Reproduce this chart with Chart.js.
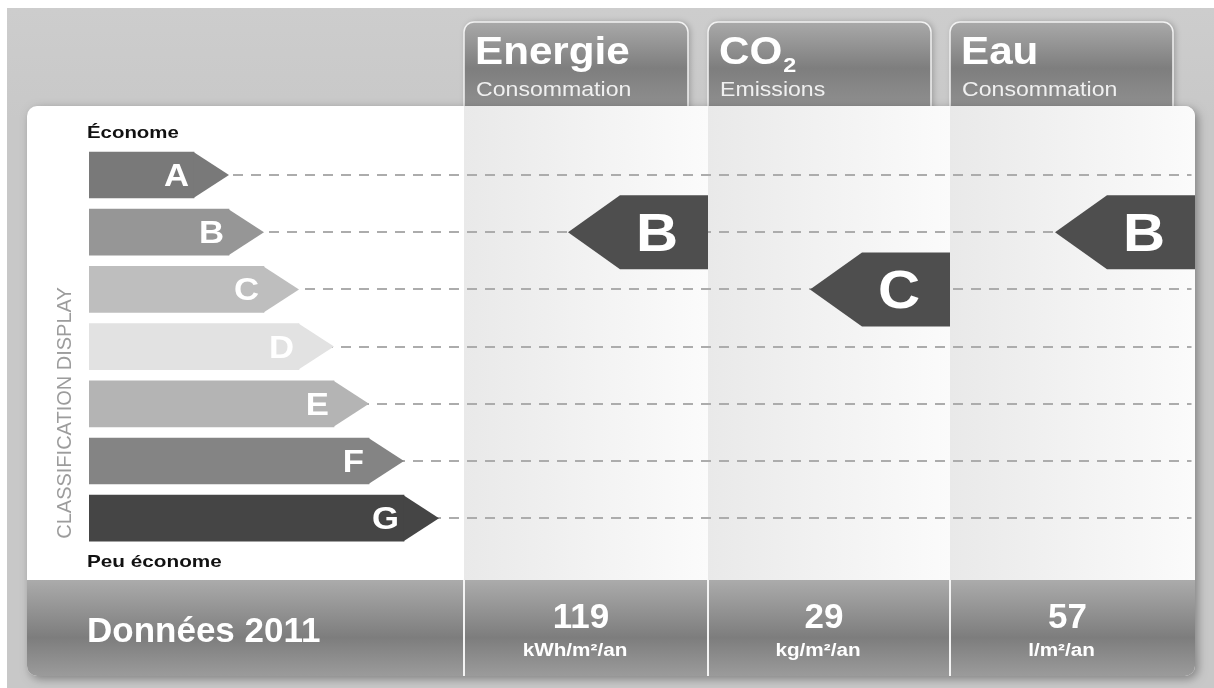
<!DOCTYPE html>
<html>
<head>
<meta charset="utf-8">
<title>Classification</title>
<script src="https://cdn.jsdelivr.net/npm/chart.js@4.4.0/dist/chart.umd.min.js"></script>
<style>
  html, body { margin: 0; padding: 0; background: #fff; }
  canvas { display: block; }
</style>
</head>
<body>
<canvas id="chart" width="1214" height="688"></canvas>
<script>
// classes and their bar lengths (in tip-length units)
const classes = ['A', 'B', 'C', 'D', 'E', 'F', 'G'];
const classLengths = [3, 4, 5, 6, 7, 8, 9];
const classColors = ['#797979', '#969696', '#bebebe', '#e2e2e2', '#b4b4b4', '#848484', '#454545'];

// the three indicators
const indicators = ['Energie', 'CO2', 'Eau'];
const indicatorSubtitles = ['Consommation', 'Emissions', 'Consommation'];
const indicatorClasses = ['B', 'C', 'B'];
const indicatorValues = [119, 29, 57];
const indicatorUnits = ['kWh/m²/an', 'kg/m²/an', 'l/m²/an'];
const yearLabel = 'Données 2011';
const topLabel = 'Économe';
const bottomLabel = 'Peu économe';
const axisTitle = 'CLASSIFICATION DISPLAY';

const FONT = "'Liberation Sans', Arial, sans-serif";
const panel = { left: 27, top: 106, right: 1195, bottom: 676, band: 580, r: 10 };
const columns = [[464, 708], [708, 950], [950, 1195]];
const tabs = [[464, 688], [708, 931], [950, 1173]];

function roundPath(ctx, x, y, w, h, tl, tr, br, bl) {
    ctx.beginPath();
    ctx.moveTo(x + tl, y);
    ctx.lineTo(x + w - tr, y);
    ctx.arcTo(x + w, y, x + w, y + tr, tr);
    ctx.lineTo(x + w, y + h - br);
    ctx.arcTo(x + w, y + h, x + w - br, y + h, br);
    ctx.lineTo(x + bl, y + h);
    ctx.arcTo(x, y + h, x, y + h - bl, bl);
    ctx.lineTo(x, y + tl);
    ctx.arcTo(x, y, x + tl, y, tl);
    ctx.closePath();
}

function panelPath(ctx) {
    roundPath(ctx, panel.left, panel.top, panel.right - panel.left, panel.bottom - panel.top,
        panel.r, panel.r, panel.r, panel.r);
}

// the source lettering is a little wider than Arial, so stretch it sideways
function text(ctx, str, x, y, font, sx, align) {
    ctx.save();
    ctx.font = font;
    ctx.textAlign = align || 'left';
    ctx.translate(x, y);
    ctx.scale(sx, 1);
    ctx.fillText(str, 0, 0);
    const w = ctx.measureText(str).width * sx;
    ctx.restore();
    return w;
}

const backdrop = {
    id: 'backdrop',
    beforeDraw(chart) {
        const ctx = chart.ctx;
        ctx.save();
        // page
        ctx.fillStyle = '#ffffff';
        ctx.fillRect(0, 0, 1214, 688);
        const pg = ctx.createLinearGradient(0, 8, 0, 120);
        pg.addColorStop(0, '#cdcdcd');
        pg.addColorStop(1, '#c8c8c8');
        ctx.fillStyle = pg;
        ctx.fillRect(7, 8, 1207, 680);

        // tabs
        tabs.forEach(([l, r]) => {
            roundPath(ctx, l, 22, r - l, 100, 10, 10, 0, 0);
            const g = ctx.createLinearGradient(0, 22, 0, 106);
            g.addColorStop(0, '#a9a9a9');
            g.addColorStop(0.55, '#7e7e7e');
            g.addColorStop(1, '#8f8f8f');
            ctx.fillStyle = g;
            ctx.shadowColor = 'rgba(0,0,0,0.25)';
            ctx.shadowBlur = 6;
            ctx.shadowOffsetX = 2;
            ctx.fill();
            ctx.shadowColor = 'transparent';
            ctx.strokeStyle = '#f2f2f2';
            ctx.lineWidth = 1.5;
            ctx.stroke();
        });

        // panel with shadow
        panelPath(ctx);
        ctx.shadowColor = 'rgba(0,0,0,0.35)';
        ctx.shadowBlur = 10;
        ctx.shadowOffsetX = 3;
        ctx.shadowOffsetY = 3;
        ctx.fillStyle = '#ffffff';
        ctx.fill();
        ctx.shadowColor = 'transparent';

        ctx.save();
        panelPath(ctx);
        ctx.clip();
        // column shading
        columns.forEach(([l, r]) => {
            const g = ctx.createLinearGradient(l, 0, r, 0);
            g.addColorStop(0, '#e9e9e9');
            g.addColorStop(1, '#fbfbfb');
            ctx.fillStyle = g;
            ctx.fillRect(l, panel.top, r - l, panel.band - panel.top);
        });
        // bottom band
        const bg = ctx.createLinearGradient(0, panel.band, 0, panel.bottom);
        bg.addColorStop(0, '#ababab');
        bg.addColorStop(0.6, '#7d7d7d');
        bg.addColorStop(1, '#9b9b9b');
        ctx.fillStyle = bg;
        ctx.fillRect(panel.left, panel.band, panel.right - panel.left, panel.bottom - panel.band);
        ctx.restore();

        // band dividers
        ctx.strokeStyle = '#f4f4f4';
        ctx.lineWidth = 2;
        columns.forEach(([l]) => {
            ctx.beginPath();
            ctx.moveTo(l, panel.band);
            ctx.lineTo(l, panel.bottom);
            ctx.stroke();
        });
        ctx.restore();
    }
};

const arrows = {
    id: 'arrows',
    afterDatasetsDraw(chart) {
        const ctx = chart.ctx;
        const xs = chart.scales.x;
        const ys = chart.scales.y;
        const unit = xs.getPixelForValue(1) - xs.getPixelForValue(0);
        const meta = chart.getDatasetMeta(0);
        ctx.save();
        ctx.textBaseline = 'alphabetic';
        meta.data.forEach((bar, i) => {
            const h = bar.height / 2;
            ctx.fillStyle = classColors[i];
            ctx.beginPath();
            ctx.moveTo(bar.x - 0.5, bar.y - h);
            ctx.lineTo(bar.x + unit, bar.y);
            ctx.lineTo(bar.x - 0.5, bar.y + h);
            ctx.closePath();
            ctx.fill();
            ctx.fillStyle = '#ffffff';
            text(ctx, classes[i], bar.x - 5, bar.y + 11, 'bold 31px ' + FONT, 1.12, 'right');
        });

        // indicator arrows, pointing left, sitting on the right edge of each column
        indicators.forEach((name, i) => {
            const y = ys.getPixelForValue(classes.indexOf(indicatorClasses[i]));
            const right = columns[i][1];
            const rectLeft = right - 88;
            const tip = rectLeft - 52;
            ctx.fillStyle = '#4e4e4e';
            ctx.beginPath();
            ctx.moveTo(right, y - 37);
            ctx.lineTo(rectLeft, y - 37);
            ctx.lineTo(tip, y);
            ctx.lineTo(rectLeft, y + 37);
            ctx.lineTo(right, y + 37);
            ctx.closePath();
            ctx.fill();
            ctx.fillStyle = '#ffffff';
            text(ctx, indicatorClasses[i], right - 51, y + 19, 'bold 53px ' + FONT, 1.1, 'center');
        });
        ctx.restore();
    },
    afterDraw(chart) {
        const ctx = chart.ctx;
        ctx.save();
        ctx.textBaseline = 'alphabetic';
        // tab titles
        indicators.forEach((name, i) => {
            const l = tabs[i][0] + 11;
            ctx.fillStyle = '#ffffff';
            if (name === 'CO2') {
                const w = text(ctx, 'CO', l, 64, 'bold 38px ' + FONT, 1.11);
                text(ctx, '2', l + w + 1, 72, 'bold 21px ' + FONT, 1.11);
            } else {
                text(ctx, name, l, 64, 'bold 38px ' + FONT, 1.11);
            }
            ctx.fillStyle = '#f0f0f0';
            text(ctx, indicatorSubtitles[i], l + 1, 96, '21px ' + FONT, 1.1);
        });

        // scale end labels
        ctx.fillStyle = '#111111';
        text(ctx, topLabel, 87, 138, 'bold 17px ' + FONT, 1.2);
        text(ctx, bottomLabel, 87, 567, 'bold 17px ' + FONT, 1.22);

        // vertical axis title
        ctx.save();
        ctx.translate(71, 413);
        ctx.rotate(-Math.PI / 2);
        ctx.fillStyle = '#9c9c9c';
        text(ctx, axisTitle, 0, 0, '20px ' + FONT, 1, 'center');
        ctx.restore();

        // band texts
        ctx.fillStyle = '#ffffff';
        text(ctx, yearLabel, 87, 642, 'bold 35px ' + FONT, 1);
        indicators.forEach((name, i) => {
            const cx = (columns[i][0] + columns[i][1]) / 2;
            text(ctx, String(indicatorValues[i]), cx - 5, 628, 'bold 35px ' + FONT, 1, 'center');
            text(ctx, indicatorUnits[i], cx - 11, 656, 'bold 18px ' + FONT, 1.15, 'center');
        });
        ctx.restore();
    }
};

new Chart(document.getElementById('chart'), {
    type: 'bar',
    data: {
        labels: classes,
        datasets: [{
            data: classLengths,
            backgroundColor: classColors,
            borderWidth: 0,
            barThickness: 46
        }]
    },
    options: {
        indexAxis: 'y',
        responsive: false,
        animation: false,
        events: [],
        layout: { padding: { left: 89, right: 22.5, top: 146.4, bottom: 141.2 } },
        plugins: { legend: { display: false }, tooltip: { enabled: false } },
        scales: {
            x: { display: false, min: 0, max: 31.5 },
            y: {
                grid: { offset: false, color: '#acacac', lineWidth: 2, drawTicks: false },
                border: { display: false, dash: [10, 8] },
                ticks: { display: false },
                afterFit: scale => { scale.width = 0; }
            }
        }
    },
    plugins: [backdrop, arrows]
});
</script>
</body>
</html>
